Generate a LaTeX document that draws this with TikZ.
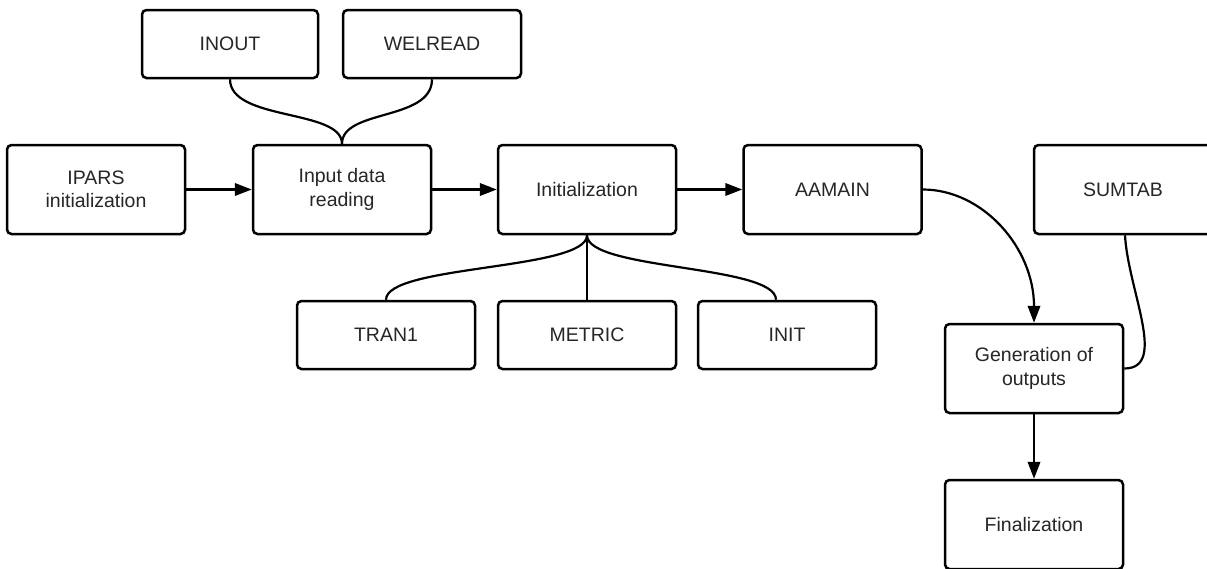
\documentclass[tikz,border=0pt]{standalone}
\usepackage{fontspec}
\setmainfont{Liberation Sans}
\usetikzlibrary{arrows.meta}
\begin{document}
\begin{tikzpicture}[x=1pt,y=-1pt,
  box/.style={draw=black, line width=2.5pt, rounded corners=4.5pt, fill=white,
    minimum width=178pt, minimum height=89pt, align=center, inner sep=0pt,
    text=black!85, font=\fontsize{19.5}{23.5}\selectfont},
  lowbox/.style={box, minimum height=68pt},
  link/.style={line width=2.2pt, draw=black},
  flow/.style={link, -{Triangle[length=17pt,width=12.5pt]}}]
\useasboundingbox (0,0) rectangle (1207,568);
\clip (0,0) rectangle (1207,568);

% reading stage and its helpers
\node[lowbox, minimum width=176pt] (inout) at (230,44) {INOUT};
\node[lowbox] (welread) at (432,44) {WELREAD};
\node[box] (ipars) at (96,189.5) {IPARS\\initialization};
\node[box] (input) at (342,189.5) {Input data\\reading};
\node[box] (initz) at (587,189.5) {Initialization};
\node[box] (aamain) at (832.5,189.5) {AAMAIN};
\node[box] (sumtab) at (1123,189.5) {SUMTAB};

% initialization helpers
\node[lowbox] (tran) at (386,335) {TRAN1};
\node[lowbox] (metric) at (587,335) {METRIC};
\node[lowbox] (initb) at (787,335) {INIT};

% output stage
\node[box] (gen) at (1034,368.5) {Generation of\\outputs};
\node[box] (fin) at (1034,524.5) {Finalization};

% main flow
\draw[flow] (ipars.east) -- (input.west);
\draw[flow] (input.east) -- (initz.west);
\draw[flow] (initz.east) -- (aamain.west);
\draw[flow] (aamain.east) .. controls +(60,0) and +(0,-75) .. (gen.north);
\draw[flow] (gen.south) -- (fin.north);

% helper links
\draw[link] (inout.south) .. controls +(0,42) and +(0,-35) .. (input.north);
\draw[link] (welread.south) .. controls +(0,42) and +(0,-35) .. (input.north);
\draw[link] (initz.south) .. controls +(0,35) and +(0,-35) .. (tran.north);
\draw[link] (initz.south) -- (metric.north);
\draw[link] (initz.south) .. controls +(0,35) and +(0,-35) .. ([xshift=-11pt]initb.north);
\coordinate (sumfoot) at ([xshift=2pt]sumtab.south);
\draw[link] (sumfoot) .. controls +(3,55) and +(44,0) .. (gen.east);
\end{tikzpicture}
\end{document}
